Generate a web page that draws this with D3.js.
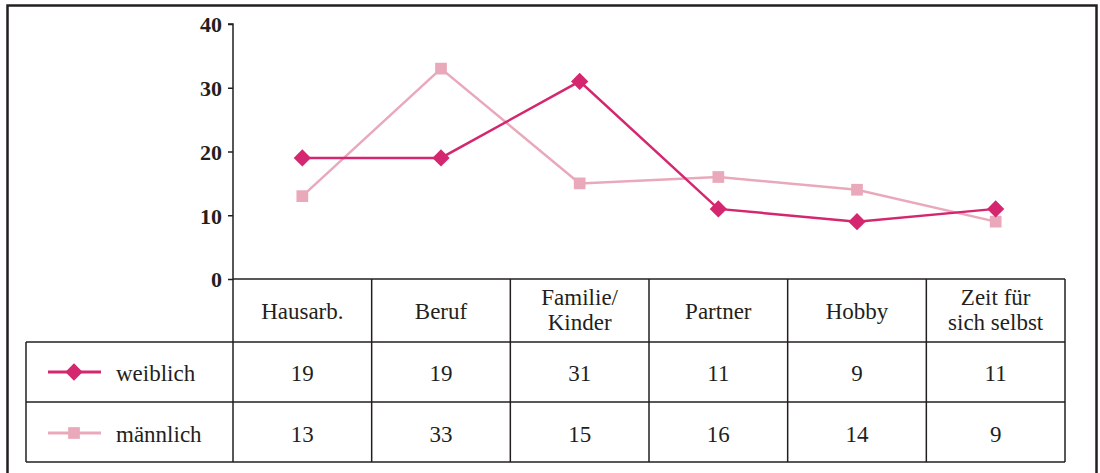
<!DOCTYPE html>
<html><head><meta charset="utf-8">
<script src="https://cdn.jsdelivr.net/npm/d3@7"></script>
<style>
html,body{margin:0;padding:0;background:#fff;}
svg{display:block;}
text{font-family:"Liberation Serif","Times New Roman",serif;fill:#231f20;}
</style></head>
<body>
<svg id="chart" width="1100" height="473"></svg>
<script>
const categories = [["Hausarb."],["Beruf"],["Familie/","Kinder"],["Partner"],["Hobby"],["Zeit für","sich selbst"]];
const categoryKeys = ["Hausarb.","Beruf","Familie/Kinder","Partner","Hobby","Zeit für sich selbst"];
const seriesNames = ["weiblich","männlich"];
const weiblich = [19,19,31,11,9,11];
const maennlich = [13,33,15,16,14,9];
const yTicks = [0,10,20,30,40];

(function(){
const colors = {weiblich:"#d4276f", "männlich":"#e9a9bb"};
const svg = d3.select("#chart");
const fs = "23px";

// outer frame
svg.append("rect").attr("x",7.5).attr("y",5.5).attr("width",1089).attr("height",480)
  .attr("fill","none").attr("stroke","#231f20").attr("stroke-width",2.5);

const pLeft=233, pRight=1065, pTop=24, zero=279;
const headerBottom=342, row1Bottom=402, row2Bottom=462, legendLeft=26;

const x = d3.scaleBand().domain(categoryKeys).range([pLeft,pRight]).padding(0);
const y = d3.scaleLinear().domain([0,40]).range([zero,pTop]);
const cx = k => x(k)+x.bandwidth()/2;

// y axis
const yAxis = d3.axisLeft(y).tickValues(yTicks).tickSize(5).tickPadding(6).tickFormat(d3.format("d"));
const ga = svg.append("g").attr("transform",`translate(${pLeft},0)`).call(yAxis);
ga.select(".domain").attr("stroke","#231f20").attr("stroke-width",1.5).attr("d",`M-5,${pTop}H0V${zero}`);
ga.selectAll(".tick line").attr("stroke","#231f20").attr("stroke-width",1.5);
ga.selectAll(".tick text").style("font-family","'Liberation Serif',serif").style("font-size","22px")
  .style("font-weight","bold").attr("fill","#231f20").attr("dy","0.36em");

// table lines
const tl = svg.append("g").attr("stroke","#231f20").attr("stroke-width",1.5).attr("fill","none");
tl.append("line").attr("x1",pLeft).attr("x2",pRight).attr("y1",zero).attr("y2",zero);
[headerBottom,row1Bottom,row2Bottom].forEach(yy=>{
  tl.append("line").attr("x1",legendLeft).attr("x2",pRight).attr("y1",yy).attr("y2",yy);
});
tl.append("line").attr("x1",legendLeft).attr("x2",legendLeft).attr("y1",headerBottom).attr("y2",row2Bottom);
categoryKeys.forEach(k=>{
  tl.append("line").attr("x1",x(k)).attr("x2",x(k)).attr("y1",zero).attr("y2",row2Bottom);
});
tl.append("line").attr("x1",pRight).attr("x2",pRight).attr("y1",zero).attr("y2",row2Bottom);

// header labels
categories.forEach((lines,i)=>{
  const k=categoryKeys[i];
  const t=svg.append("text").attr("text-anchor","middle").style("font-size",fs);
  const base = lines.length===1 ? 319 : 305;
  lines.forEach((ln,j)=>{
    t.append("tspan").attr("x",cx(k)).attr("y",base+j*25).text(ln);
  });
});

// value rows
const rows=[{name:"weiblich",vals:weiblich,base:381},{name:"männlich",vals:maennlich,base:442}];
rows.forEach(r=>{
  r.vals.forEach((v,i)=>{
    svg.append("text").attr("x",cx(categoryKeys[i])).attr("y",r.base).attr("text-anchor","middle")
      .style("font-size",fs).text(v);
  });
  svg.append("text").attr("x",116).attr("y",r.base).style("font-size",fs).text(r.name);
});

const diamond = d3.symbol().type(d3.symbolDiamond2).size(190);
const square = d3.symbol().type(d3.symbolSquare2).size(175);

// legend
function legendKey(yy,name,sym){
  svg.append("line").attr("x1",48).attr("x2",101).attr("y1",yy).attr("y2",yy)
    .attr("stroke",colors[name]).attr("stroke-width",3);
  svg.append("path").attr("d",sym()).attr("transform",`translate(74,${yy})`).attr("fill",colors[name]);
}
legendKey(372,"weiblich",diamond);
legendKey(433,"männlich",square);

// series lines
const line = d3.line().x((d,i)=>cx(categoryKeys[i])).y(d=>y(d));
svg.append("path").datum(maennlich).attr("d",line).attr("fill","none")
  .attr("stroke",colors["männlich"]).attr("stroke-width",2.5);
svg.selectAll(".m").data(maennlich).enter().append("path").attr("class","m").attr("d",square())
  .attr("transform",(d,i)=>`translate(${cx(categoryKeys[i])},${y(d)})`).attr("fill",colors["männlich"]);
svg.append("path").datum(weiblich).attr("d",line).attr("fill","none")
  .attr("stroke",colors.weiblich).attr("stroke-width",2.5);
svg.selectAll(".w").data(weiblich).enter().append("path").attr("class","w").attr("d",diamond())
  .attr("transform",(d,i)=>`translate(${cx(categoryKeys[i])},${y(d)})`).attr("fill",colors.weiblich);
})();
</script>
</body></html>
